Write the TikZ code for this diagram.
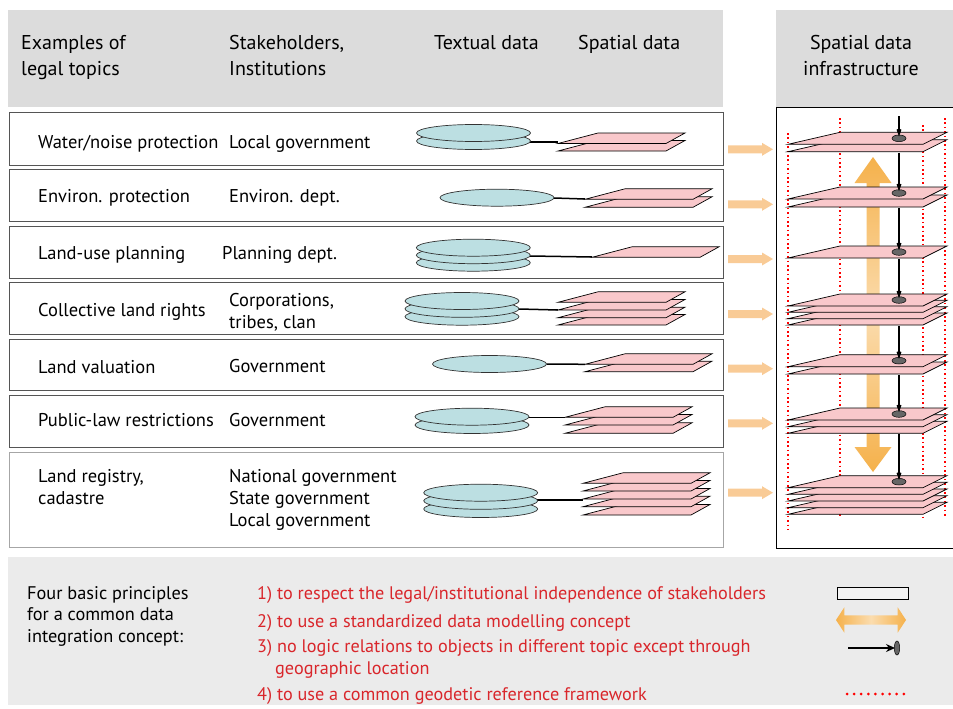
\documentclass[tikz,border=0pt]{standalone}
\usepackage{fontspec}
\setmainfont{PT Sans}
\usetikzlibrary{arrows.meta}
\definecolor{hdr}{HTML}{DCDCDC}
\definecolor{foot}{HTML}{EBEBEB}
\definecolor{pinkp}{HTML}{F9C8CB}
\definecolor{cyand}{HTML}{BCDFE2}
\definecolor{orsm}{HTML}{F9CB96}
\definecolor{orbig}{HTML}{F5B14B}
\definecolor{orlight}{HTML}{FBDCAE}
\definecolor{redt}{HTML}{D9262B}
\definecolor{dotg}{HTML}{666666}
\definecolor{rowb}{HTML}{555555}
\newcommand{\splane}[2]{\draw[planep] (#1,#2) -- ++(108,0) -- ++(19,-10.5) -- ++(-87,0) -- cycle;}
\newcommand{\bplane}[1]{\draw[planep] (788,#1) -- ++(135,0) -- ++(24,-12) -- ++(-107,0) -- cycle;}
\newcommand{\disk}[2]{\draw[diskp] (#1,#2) ellipse [x radius=57, y radius=8.5];}
\newcommand{\harrow}[2]{\fill[orsm] (728,#2-4) -- (762,#2-4) -- (762,#2-6.5) -- (773,#2) -- (762,#2+6.5) -- (762,#2+4) -- (728,#2+4) -- cycle; \coordinate (#1) at (773,#2);}
\begin{document}
\begin{tikzpicture}[x=1pt,y=-1pt,
  planep/.style={fill=pinkp,draw=black,line width=0.7pt,line join=miter},
  diskp/.style={fill=cyand,draw=black!80,line width=0.7pt},
  rowbox/.style={draw=rowb,line width=1pt,fill=white},
  txt/.style={anchor=base west,inner sep=0pt,font=\fontsize{18.5}{22}\selectfont},
  ftxt/.style={anchor=base west,inner sep=0pt,font=\fontsize{18.3}{22}\selectfont},
  hd/.style={anchor=base west,inner sep=0pt,font=\fontsize{20}{24}\selectfont},
  rtxt/.style={anchor=base west,inner sep=0pt,text=redt,font=\fontsize{18.2}{22}\selectfont},
  link/.style={draw=black,line width=1.5pt},
  reddots/.style={draw=red,line width=2pt,dash pattern=on 1.6pt off 2.8pt},
  downarrow/.style={draw=black,line width=1.8pt,-{Stealth[length=14pt,width=10pt,inset=9pt]}},
  gdot/.style={fill=dotg,draw=black,line width=0.5pt}
]
\useasboundingbox (0,0) rectangle (953,709);
% header backgrounds
\fill[hdr] (8,10) rectangle (723,107);
\fill[hdr] (776,10) rectangle (953,107);
\fill[foot] (8,557) rectangle (953,705);
% headers
\node[hd] (h1a) at (21,50) {Examples of};
\node[hd] (h1b) at (21,76) {legal topics};
\node[hd] (h2a) at (229,50) {Stakeholders,};
\node[hd] (h2b) at (229,76) {Institutions};
\node[hd] (h3) at (434,50) {Textual data};
\node[hd] (h4) at (578,50) {Spatial data};
\node[hd,anchor=base] (h5a) at (861,50) {Spatial data};
\node[hd,anchor=base] (h5b) at (861,76) {infrastructure};
% row boxes
\draw[rowbox] (9,112) rectangle (723,165);
\draw[rowbox] (9,169) rectangle (723,221);
\draw[rowbox] (9,226) rectangle (723,278);
\draw[rowbox] (9,282) rectangle (723,334);
\draw[rowbox] (9,339) rectangle (723,390);
\draw[rowbox] (9,395) rectangle (723,447);
\draw[rowbox,draw=black!35] (9,452) rectangle (723,547);
% row texts
\node[txt] (t1) at (38,148) {Water/noise protection};
\node[txt] (s1) at (229,148) {Local government};
\node[txt] (t2) at (38,202) {Environ. protection};
\node[txt] (s2) at (229,202) {Environ. dept.};
\node[txt] (t3) at (38,259) {Land-use planning};
\node[txt] (s3) at (222,259) {Planning dept.};
\node[txt] (t4) at (38,316) {Collective land rights};
\node[txt] (s4a) at (229,306) {Corporations,};
\node[txt] (s4b) at (229,328) {tribes, clan};
\node[txt] (t5) at (38,373) {Land valuation};
\node[txt] (s5) at (229,372) {Government};
\node[txt] (t6) at (38,426) {Public-law restrictions};
\node[txt] (s6) at (229,426) {Government};
\node[txt] (t7a) at (38,482) {Land registry,};
\node[txt] (t7b) at (38,504) {cadastre};
\node[txt] (s7a) at (229,482) {National government};
\node[txt] (s7b) at (229,504) {State government};
\node[txt] (s7c) at (229,526) {Local government};
% row 1
\coordinate (d1) at (530,142); \coordinate (p1) at (558,142);
\draw[link] (d1) -- (p1);
\disk{473.5}{141}\disk{473.5}{133}
\splane{558}{151}\splane{558}{143.5}
% row 2
\coordinate (d2) at (554,198); \coordinate (p2) at (585,199);
\draw[link] (d2) -- (p2);
\disk{497}{197.7}
\splane{585}{207.3}\splane{585}{199.3}
% row 3
\coordinate (d3) at (530,256); \coordinate (p3) at (592,257);
\draw[link] (d3) -- (p3);
\disk{473.3}{262.7}\disk{473.3}{255.2}\disk{473.3}{247.7}
\splane{592}{257.3}
% row 4
\coordinate (d4) at (519,309); \coordinate (p4) at (558,310);
\draw[link] (d4) -- (p4);
\disk{462}{316.7}\disk{462}{308.8}\disk{462}{301}
\splane{558}{325}\splane{558}{317.7}\splane{558}{310}\splane{558}{302.3}
% row 5
\coordinate (d5) at (546.7,364); \coordinate (p5) at (585,364.3);
\draw[link] (d5) -- (p5);
\disk{489.5}{364}
\splane{585}{371.7}\splane{585}{364.3}
% row 6
\coordinate (d6) at (529,417.3); \coordinate (p6) at (565,417.3);
\draw[link] (d6) -- (p6);
\disk{472}{425}\disk{472}{416.7}
\splane{565}{433.3}\splane{565}{425}\splane{565}{417.3}
% row 7
\coordinate (d7) at (537,500); \coordinate (p7) at (583,500);
\draw[link] (d7) -- (p7);
\disk{480.7}{509}\disk{480.7}{500.8}\disk{480.7}{492.7}
\splane{583}{515}\splane{583}{506.7}\splane{583}{499}\splane{583}{491}\splane{583}{483.3}
% small orange arrows
\harrow{a1}{149.3}\harrow{a2}{204.3}\harrow{a3}{259}\harrow{a4}{314}
\harrow{a5}{368.7}\harrow{a6}{423.3}\harrow{a7}{492.7}
% right panel
\draw[black,line width=1pt,fill=white] (776,107) rectangle (960,548);
\draw[reddots] (788,133) -- (788,530);
\draw[reddots] (840,118) -- (840,517);
\draw[reddots] (923,125) -- (923,520);
\draw[reddots] (945,118) -- (945,517);
% big double arrow
\shade[top color=orbig,bottom color=orbig,middle color=orlight]
  (873,157) -- (891.5,183) -- (879.5,183) -- (879.5,447) -- (891.5,447) -- (873,472)
  -- (854.5,447) -- (866.5,447) -- (866.5,183) -- (854.5,183) -- cycle;
% plane groups
\bplane{151.7}\bplane{144.3}
\bplane{207}\bplane{199}
\bplane{258}
\bplane{325}\bplane{318.7}\bplane{312.3}\bplane{306}
\bplane{374}\bplane{366.7}
\bplane{433.3}\bplane{426.7}\bplane{420}
\bplane{514.3}\bplane{507.7}\bplane{501}\bplane{494.3}\bplane{487.7}
% dots
\coordinate (top) at (899,116);
\coordinate (b1) at (899,152.5);
\coordinate (b2) at (899,207.8);
\coordinate (b3) at (899,258.8);
\coordinate (b4) at (899,325.8);
\coordinate (b5) at (899,374.8);
\coordinate (b6) at (899,434.1);
\draw[gdot] (899,138.3) ellipse [x radius=7,y radius=3.3];
\draw[gdot] (899,193) ellipse [x radius=7,y radius=3.3];
\draw[gdot] (899,252) ellipse [x radius=7,y radius=3.3];
\draw[gdot] (899,300) ellipse [x radius=7,y radius=3.3];
\draw[gdot] (899,360.7) ellipse [x radius=7,y radius=3.3];
\draw[gdot] (899,414) ellipse [x radius=7,y radius=3.3];
\draw[gdot] (899,481.7) ellipse [x radius=7,y radius=3.3];
\coordinate (g1) at (899,136.5);
\coordinate (g2) at (899,191.2);
\coordinate (g3) at (899,250.2);
\coordinate (g4) at (899,298.2);
\coordinate (g5) at (899,358.9);
\coordinate (g6) at (899,412.2);
\coordinate (g7) at (899,479.9);
\draw[downarrow] (top) -- (g1);
\draw[downarrow] (b1) -- (g2);
\draw[downarrow] (b2) -- (g3);
\draw[downarrow] (b3) -- (g4);
\draw[downarrow] (b4) -- (g5);
\draw[downarrow] (b5) -- (g6);
\draw[downarrow] (b6) -- (g7);
% footer texts
\node[ftxt] (f1) at (27,599) {Four basic principles};
\node[ftxt] (f2) at (27,620) {for a common data};
\node[ftxt] (f3) at (27,642) {integration concept:};
\node[rtxt] (r1) at (257,599) {1) to respect the legal/institutional independence of stakeholders};
\node[rtxt] (r2) at (257,627) {2) to use a standardized data modelling concept};
\node[rtxt] (r3) at (257,652) {3) no logic relations to objects in different topic except through};
\node[rtxt] (r3b) at (275,674) {geographic location};
\node[rtxt] (r4) at (257,700) {4) to use a common geodetic reference framework};
% legend
\draw[black,line width=1pt,fill=foot!60!white] (837,587) rectangle (908,599);
\shade[left color=orbig,right color=orbig,middle color=orlight]
  (836,620) -- (844.3,607.3) -- (844.3,615.3) -- (897.7,615.3) -- (897.7,607.3) -- (906,620)
  -- (897.7,632.7) -- (897.7,624.7) -- (844.3,624.7) -- (844.3,632.7) -- cycle;
\coordinate (la) at (848,648);
\coordinate (lb) at (895,648);
\draw[black,line width=1.3pt,-{Stealth[length=9pt,width=8pt]}] (la) -- (lb);
\draw[gdot] (897,648) ellipse [x radius=2.7,y radius=7];
\coordinate (lr1) at (847,694);
\coordinate (lr2) at (905,694);
\draw[draw=red,line width=3pt,line cap=round,dash pattern=on 0pt off 7.1pt] (lr1) -- (lr2);
\end{tikzpicture}
\end{document}
